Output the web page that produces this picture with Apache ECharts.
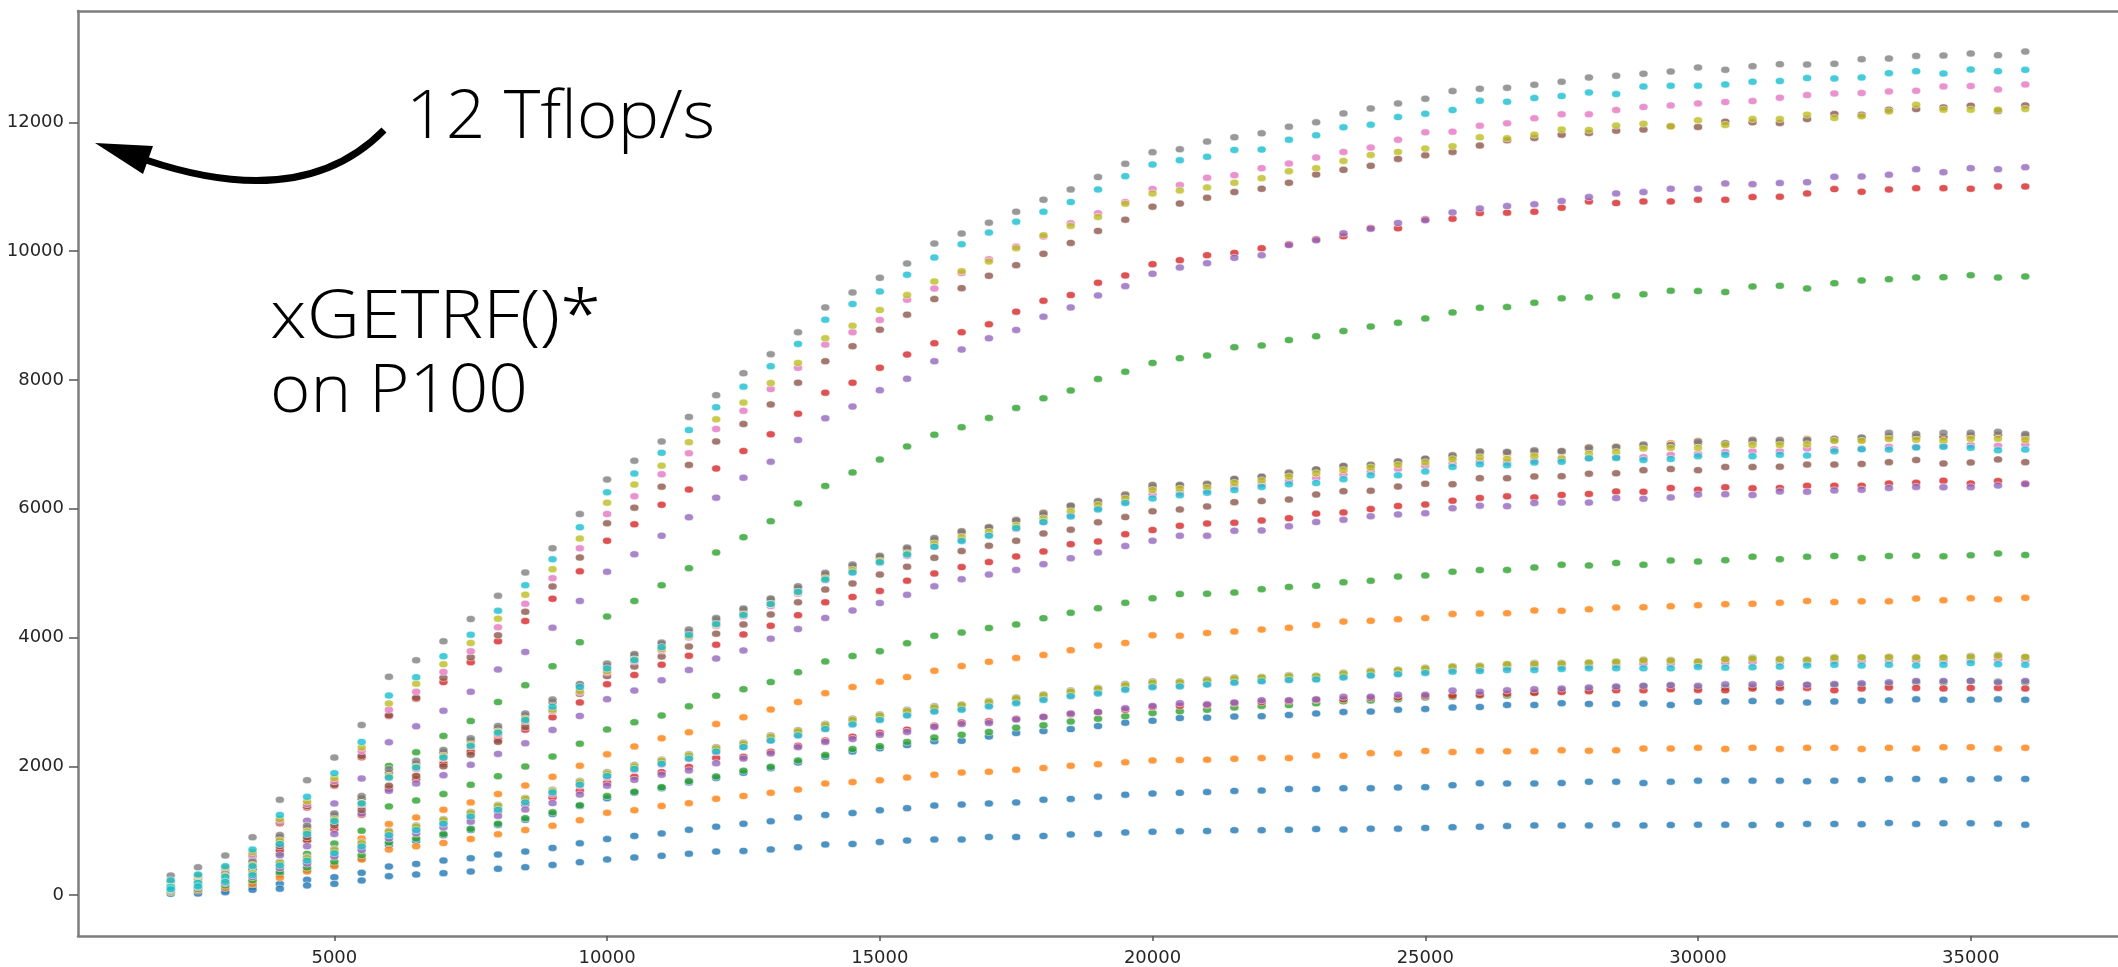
<!DOCTYPE html>
<html>
<head>
<meta charset="utf-8">
<title>xGETRF on P100</title>
<script src="https://cdn.jsdelivr.net/npm/echarts@6/dist/echarts.min.js"></script>
<style>
  html, body { margin: 0; padding: 0; background: #fff; }
  #chart { width: 2118px; height: 967px; }
</style>
</head>
<body>
<div id="chart"></div>
<script>
// Matrix sizes N (x axis) shared by every curve
const sizes = [2000,2500,3000,3500,4000,4500,5000,5500,6000,6500,7000,7500,8000,8500,9000,9500,10000,10500,11000,11500,12000,12500,13000,13500,14000,14500,15000,15500,16000,16500,17000,17500,18000,18500,19000,19500,20000,20500,21000,21500,22000,22500,23000,23500,24000,24500,25000,25500,26000,26500,27000,27500,28000,28500,29000,29500,30000,30500,31000,31500,32000,32500,33000,33500,34000,34500,35000,35500,36000];

const xTicks = [5000, 10000, 15000, 20000, 25000, 30000, 35000];
const yTicks = [0, 2000, 4000, 6000, 8000, 10000, 12000];

// Gflop/s per size — fastest family (A)
const grayA = [304,433,614,898,1481,1785,2136,2642,3390,3648,3942,4288,4649,5010,5387,
  5918,6454,6747,7046,7427,7765,8106,8400,8741,9128,9360,9587,9809,10119,10274,10444,10614,10800,10960,11151,11357,11538,11584,11703,11770,11832,11935,12002,12141,12218,12296,12368,12487,12523,12538,
  12585,12632,12698,12725,12756,12791,12853,12817,12874,12905,12899,12910,12983,12993,13034,13039,13070,13045,13101];
const cyanA = [230,320,449,707,1244,1527,1894,2379,3101,3385,3710,4045,4417,4814,5217,
  5713,6255,6548,6869,7223,7577,7897,8215,8561,8937,9180,9376,9634,9902,10109,10289,10459,10614,10764,10960,11166,11347,11414,11466,11574,11579,11733,11801,11924,11966,12084,12136,12193,12337,12322,
  12379,12410,12466,12441,12559,12570,12570,12590,12632,12643,12689,12683,12699,12766,12797,12760,12822,12797,12817];
const pinkA = [205,295,415,640,1160,1414,1770,2240,2879,3158,3467,3788,4159,4525,4923,
  5387,5918,6194,6537,6863,7239,7521,7859,8189,8550,8741,8932,9247,9420,9660,9876,10072,10227,10434,10588,10764,10965,11027,11141,11182,11290,11362,11455,11542,11610,11733,11847,11857,11950,11986,
  12064,12126,12126,12193,12240,12265,12296,12317,12332,12384,12425,12451,12457,12482,12492,12559,12565,12513,12590];
const oliveA = [215,305,430,666,1182,1455,1816,2291,2977,3282,3586,3916,4293,4665,5062,
  5537,6095,6377,6670,7035,7389,7649,7953,8266,8648,8844,9087,9319,9531,9691,9840,10047,10248,10392,10532,10738,10898,10945,10991,11063,11135,11243,11290,11403,11496,11543,11594,11630,11769,11754,
  11811,11889,11884,11951,11981,11940,12033,11961,12054,12054,12121,12069,12095,12172,12276,12198,12198,12198,12209];
const brownA = [195,285,405,625,1140,1383,1713,2162,2792,3065,3375,3694,4035,4401,4794,
  5243,5774,6017,6344,6681,7046,7317,7621,7958,8292,8525,8782,9015,9257,9427,9618,9784,9959,10129,10315,10490,10692,10740,10831,10919,10970,11063,11192,11264,11326,11434,11491,11543,11641,11723,
  11760,11811,11837,11873,11889,11940,11930,12012,12002,11992,12054,12131,12121,12198,12209,12234,12260,12178,12265];
const redA = [185,275,395,610,1115,1362,1700,2140,2780,3050,3308,3617,3942,4257,4603,
  5028,5503,5758,6062,6299,6626,6897,7156,7477,7803,7958,8189,8395,8571,8741,8865,9061,9231,9319,9510,9624,9799,9861,9938,9974,10046,10108,10185,10232,10361,10356,10495,10505,10593,10599,
  10614,10676,10774,10748,10774,10774,10800,10800,10841,10846,10898,10965,10924,10959,10980,10980,10970,11006,11006];
const purpleA = [160,240,340,540,900,1156,1424,1811,2374,2621,2864,3158,3504,3777,4154,
  4569,5022,5293,5581,5868,6172,6482,6731,7068,7405,7588,7842,8019,8292,8473,8648,8777,8984,9128,9314,9458,9649,9747,9814,9897,9938,10095,10170,10278,10350,10438,10480,10603,10665,10701,
  10728,10779,10841,10898,10918,10970,10970,11053,11042,11058,11073,11156,11161,11187,11274,11228,11290,11274,11305];
const greenA = [120,180,260,400,650,860,1120,1500,2007,2219,2472,2704,2998,3261,3555,
  3928,4326,4569,4812,5078,5321,5559,5807,6084,6355,6565,6764,6969,7151,7267,7411,7566,7715,7838,8016,8129,8266,8339,8380,8509,8537,8620,8680,8760,8830,8890,8957,9050,9122,9133,
  9200,9268,9283,9309,9330,9386,9381,9365,9453,9463,9422,9504,9546,9566,9592,9597,9628,9592,9608];

// Middle family (B)
const grayB = [150,220,330,520,934,1078,1269,1538,1956,2085,2255,2436,2626,2822,3039,
  3280,3596,3745,3922,4127,4304,4453,4608,4796,5006,5133,5271,5398,5548,5653,5713,5824,5935,6049,6120,6221,6369,6369,6387,6464,6499,6565,6612,6665,6683,6736,6778,6831,6890,6881,
  6908,6897,6952,6962,7000,6990,7044,7017,7071,7071,7071,7087,7109,7179,7163,7179,7179,7195,7163];
const brownB = [140,210,320,500,900,1050,1240,1500,1900,2040,2220,2400,2590,2790,3000,
  3250,3560,3720,3900,4090,4280,4430,4590,4770,4980,5110,5250,5380,5520,5630,5713,5810,5910,6049,6100,6200,6340,6369,6370,6464,6499,6540,6612,6665,6670,6736,6778,6810,6870,6881,
  6890,6890,6930,6950,6980,6985,7020,7005,7050,7040,7060,7070,7090,7130,7120,7120,7140,7150,7140];
const orangeB = [120,180,270,420,800,950,1120,1380,1672,1852,2060,2250,2450,2660,2880,
  3150,3470,3650,3840,4050,4240,4400,4560,4750,4960,5090,5240,5370,5520,5640,5700,5824,5943,6030,6110,6221,6369,6350,6387,6440,6480,6550,6600,6650,6683,6720,6770,6831,6890,6854,
  6865,6881,6957,6962,6973,7017,7055,7017,7044,7044,7087,7087,7071,7109,7125,7109,7125,7152,7109];
const oliveB = [135,200,300,470,850,990,1180,1430,1850,1990,2160,2340,2540,2740,2880,
  3170,3480,3660,3820,4020,4200,4360,4520,4700,4920,5050,5190,5310,5460,5560,5640,5740,5850,5960,6060,6160,6290,6310,6330,6400,6440,6500,6550,6600,6640,6680,6720,6770,6800,6773,
  6816,6784,6854,6881,6935,6946,6946,6990,6990,6990,7000,7055,7055,7082,7071,7055,7087,7087,7071];
const pinkB = [130,195,290,455,846,980,1160,1410,1820,1960,2130,2310,2500,2700,2870,
  3150,3460,3630,3800,4000,4180,4330,4490,4680,4890,5020,5160,5270,5420,5520,5600,5690,5790,5900,6010,6110,6220,6250,6280,6340,6380,6430,6480,6530,6580,6620,6670,6700,6740,6719,
  6746,6762,6784,6800,6800,6838,6854,6881,6892,6892,6935,6925,6935,6962,6962,6979,6990,6979,7000];
const cyanB = [125,190,285,450,795,950,1150,1424,1827,1981,2136,2317,2523,2719,2926,
  3231,3520,3650,3850,4040,4210,4350,4520,4710,4900,5010,5170,5290,5410,5500,5580,5700,5794,5880,5990,6090,6160,6210,6250,6290,6340,6380,6400,6460,6520,6520,6580,6650,6690,6675,
  6719,6730,6784,6789,6757,6773,6816,6838,6816,6838,6827,6892,6925,6919,6952,6962,6946,6908,6919];
const brownB2 = [115,170,255,400,760,900,1080,1320,1700,1850,2000,2180,2380,2610,2859,
  3126,3402,3552,3706,3861,4060,4204,4359,4547,4746,4840,4978,5100,5238,5343,5426,5503,5617,5676,5789,5871,5960,5990,6037,6103,6120,6144,6221,6274,6280,6345,6387,6381,6476,6475,
  6502,6507,6545,6551,6600,6616,6600,6648,6648,6654,6686,6686,6697,6724,6757,6703,6719,6767,6724];
const redB = [105,160,240,380,700,850,1020,1250,1650,1800,2033,2219,2404,2570,2761,
  2993,3275,3419,3579,3717,3889,4049,4182,4348,4547,4630,4724,4884,4995,5094,5172,5260,5338,5451,5492,5605,5670,5735,5771,5783,5818,5854,5925,5943,5996,6043,6067,6126,6168,6193,
  6177,6215,6231,6269,6264,6323,6296,6334,6318,6323,6356,6356,6356,6394,6404,6437,6394,6431,6394];
const purpleB = [95,145,215,340,620,760,950,1269,1620,1734,1863,2023,2193,2358,2565,
  2783,3043,3176,3336,3496,3673,3800,3983,4132,4304,4420,4536,4663,4796,4906,4978,5050,5140,5232,5321,5421,5504,5581,5581,5658,5664,5729,5794,5830,5883,5913,5931,6008,6049,6041,
  6090,6096,6096,6166,6155,6177,6220,6226,6215,6269,6264,6285,6296,6323,6339,6334,6334,6361,6383];
const greenB = [80,120,180,290,520,640,800,1000,1378,1471,1569,1713,1847,1997,2152,
  2352,2573,2684,2789,2932,3098,3198,3308,3463,3629,3712,3789,3911,4027,4077,4149,4204,4300,4385,4456,4539,4610,4675,4681,4699,4752,4787,4805,4859,4882,4947,4965,5024,5048,5050,
  5088,5131,5120,5158,5131,5196,5180,5202,5256,5218,5256,5267,5234,5267,5272,5261,5277,5305,5283];
const orangeB2 = [70,105,160,250,450,560,700,880,1104,1207,1326,1440,1569,1703,1837,
  2009,2186,2308,2435,2529,2656,2761,2883,2999,3137,3231,3314,3386,3485,3557,3623,3684,3728,3804,3875,3917,4035,4029,4071,4094,4124,4153,4195,4248,4260,4284,4302,4367,4373,4378,
  4421,4416,4438,4465,4470,4487,4503,4519,4524,4541,4568,4551,4562,4562,4606,4579,4611,4595,4617];

// Slowest family (C)
const grayC = [110,160,240,350,511,588,717,820,1000,1080,1180,1290,1400,1510,1636,
  1771,1909,2020,2103,2186,2297,2368,2479,2562,2656,2739,2805,2877,2932,2960,3015,3070,3117,3176,3218,3277,3318,3318,3348,3378,3389,3413,3407,3455,3484,3502,3532,3555,3561,3587,
  3603,3603,3614,3630,3657,3652,3630,3668,3685,3668,3657,3695,3695,3701,3695,3685,3712,3728,3695];
const oliveC = [105,155,232,340,500,575,700,805,985,1065,1165,1275,1385,1495,1620,
  1755,1890,2000,2085,2170,2280,2350,2460,2545,2640,2720,2790,2860,2915,2950,3000,3055,3105,3160,3205,3260,3300,3305,3335,3365,3380,3400,3400,3440,3470,3495,3520,3545,3555,3587,
  3590,3595,3610,3620,3645,3640,3625,3660,3670,3660,3650,3685,3690,3695,3688,3690,3700,3715,3700];
const brownC = [100,150,225,330,490,565,690,795,975,1055,1150,1260,1370,1480,1600,
  1735,1870,1985,2070,2150,2260,2335,2440,2525,2620,2705,2775,2845,2900,2935,2985,3040,3090,3150,3190,3245,3285,3295,3320,3350,3370,3390,3390,3430,3460,3480,3505,3530,3540,3560,
  3575,3580,3595,3605,3630,3625,3615,3645,3655,3650,3640,3670,3675,3680,3675,3670,3690,3700,3680];
const orangeC = [95,145,220,325,480,555,680,785,960,1040,1140,1250,1360,1470,1590,
  1725,1860,1975,2060,2145,2250,2330,2430,2515,2610,2700,2770,2840,2895,2930,2980,3035,3085,3140,3185,3240,3280,3290,3315,3345,3365,3385,3395,3425,3455,3480,3500,3525,3540,3570,
  3585,3590,3600,3615,3640,3640,3630,3655,3665,3660,3655,3680,3685,3690,3690,3685,3700,3705,3690];
const pinkC = [92,140,212,318,470,545,665,770,945,1025,1125,1235,1340,1450,1570,
  1700,1830,1945,2030,2115,2220,2300,2400,2485,2580,2665,2735,2805,2860,2895,2945,3000,3050,3105,3150,3205,3245,3255,3280,3310,3330,3350,3360,3395,3420,3445,3470,3495,3505,3530,
  3540,3545,3560,3570,3590,3590,3585,3605,3615,3615,3610,3635,3640,3645,3645,3640,3655,3665,3650];
const cyanC = [90,135,205,310,460,535,650,755,930,1010,1110,1220,1325,1440,1595,
  1716,1850,1960,2040,2120,2230,2300,2400,2480,2580,2650,2720,2790,2850,2880,2930,2980,3030,3090,3130,3190,3230,3240,3270,3300,3320,3340,3350,3380,3410,3430,3450,3470,3480,3495,
  3495,3511,3522,3522,3522,3522,3544,3533,3538,3549,3565,3576,3565,3576,3565,3576,3603,3587,3576];
const purpleC = [80,120,185,280,420,490,600,700,880,960,1050,1140,1230,1330,1429,
  1561,1700,1790,1870,1937,2048,2120,2200,2297,2379,2424,2490,2534,2612,2656,2672,2728,2767,2821,2844,2903,2939,2981,2963,2992,3028,3028,3040,3081,3081,3111,3111,3176,3158,3181,
  3197,3208,3224,3240,3251,3262,3251,3273,3273,3289,3267,3278,3289,3305,3327,3327,3327,3305,3327];
const redC = [85,128,195,295,440,510,625,730,930,1010,1110,1200,1300,1410,1517,
  1622,1744,1838,1910,1990,2131,2147,2225,2320,2400,2460,2520,2570,2630,2680,2700,2740,2770,2810,2840,2880,2920,2940,2950,2980,3000,3010,3030,3040,3060,3070,3090,3100,3110,3127,
  3143,3154,3165,3181,3181,3197,3186,3181,3208,3218,3218,3181,3208,3224,3218,3208,3218,3218,3208];
const greenC = [60,95,150,230,360,430,520,620,820,880,950,1030,1110,1195,1285,
  1395,1539,1605,1677,1771,1843,1932,1992,2092,2175,2269,2313,2379,2446,2490,2534,2601,2637,2696,2738,2779,2827,2856,2880,2915,2939,2951,2980,3010,3022,3040,3070,3080,3099,3099,
  3143,3181,3197,3224,3240,3251,3224,3224,3235,3251,3262,3262,3267,3278,3305,3305,3327,3316,3305];
const blueC = [50,80,130,200,320,390,470,570,780,840,930,1010,1090,1170,1259,
  1384,1506,1590,1660,1750,1820,1900,1970,2060,2150,2230,2280,2330,2390,2396,2462,2518,2548,2578,2625,2678,2708,2750,2756,2773,2779,2797,2821,2844,2850,2880,2892,2915,2921,2953,
  2953,2980,2969,2969,2975,2953,3002,3007,3013,3007,2991,3007,3018,3024,3040,3034,3034,3040,3034];
const orangeC2 = [45,70,110,170,270,366,449,552,707,758,810,872,944,1011,1078,
  1163,1279,1318,1384,1428,1495,1539,1589,1639,1733,1755,1782,1827,1871,1904,1915,1948,1974,2009,2033,2062,2092,2098,2104,2116,2128,2128,2169,2163,2205,2199,2240,2222,2240,2233,
  2233,2249,2243,2249,2276,2276,2287,2271,2287,2271,2287,2287,2271,2287,2276,2298,2298,2276,2287];
const blueC2 = [35,55,80,130,175,237,279,346,444,485,537,573,630,676,733,
  804,870,920,958,1014,1063,1108,1146,1207,1246,1274,1318,1351,1390,1406,1423,1439,1482,1494,1529,1559,1577,1588,1600,1618,1624,1648,1648,1660,1660,1672,1677,1707,1737,1734,
  1734,1740,1761,1761,1740,1761,1778,1778,1778,1778,1767,1778,1789,1805,1805,1783,1799,1810,1805];
const blueC3 = [20,25,46,83,100,150,175,227,294,320,341,366,408,433,469,
  511,555,583,610,643,676,687,710,743,787,793,826,848,864,864,903,903,919,943,949,973,984,990,996,1008,1008,1014,1026,1020,1032,1032,1044,1055,1061,1073,
  1083,1083,1083,1094,1083,1089,1094,1094,1089,1094,1105,1105,1100,1121,1105,1116,1116,1110,1094];

// One scatter series per colour, each holding all curves drawn in that colour
const colourGroups = [
  { color: '#1f77b4', curves: [blueC, blueC2, blueC3] },
  { color: '#ff7f0e', curves: [orangeB, orangeB2, orangeC, orangeC2] },
  { color: '#2ca02c', curves: [greenA, greenB, greenC] },
  { color: '#d62728', curves: [redA, redB, redC] },
  { color: '#9467bd', curves: [purpleA, purpleB, purpleC] },
  { color: '#8c564b', curves: [brownA, brownB, brownB2, brownC] },
  { color: '#e377c2', curves: [pinkA, pinkB, pinkC] },
  { color: '#7f7f7f', curves: [grayA, grayB, grayC] },
  { color: '#bcbd22', curves: [oliveA, oliveB, oliveC] },
  { color: '#17becf', curves: [cyanA, cyanB, cyanC] }
];

const series = colourGroups.map(g => ({
  type: 'scatter',
  symbol: 'circle',
  symbolSize: [9, 7],
  itemStyle: { color: g.color, opacity: 0.8, borderColor: '#ffffff', borderWidth: 0.6 },
  silent: true,
  data: g.curves.flatMap(c => sizes.map((n, i) => [n, c[i]]))
}));

const X_MIN = 300, X_MAX = 37700, Y_MIN = -635, Y_MAX = 13731;
const spine = { show: true, onZero: false, lineStyle: { color: '#7d7d7d', width: 2.5 } };
const labelFont = { fontFamily: 'DejaVu Sans', fontSize: 18, color: '#262626' };
const noteFont = '300 67px "Open Sans Light", "Open Sans", "Noto Sans", sans-serif';
// a thin white outline drawn over the glyphs keeps the annotation strokes light
const noteStyle = { font: noteFont, fill: '#000', stroke: '#ffffff', lineWidth: 1.4, verticalAlign: 'middle' };

const chart = echarts.init(document.getElementById('chart'), null, { renderer: 'canvas' });
chart.setOption({
  animation: false,
  backgroundColor: '#ffffff',
  grid: { left: 78, top: 11, width: 2057, height: 928, containLabel: false },
  xAxis: [
    {
      type: 'value', position: 'bottom', min: X_MIN, max: X_MAX,
      axisLine: spine,
      splitLine: { show: false },
      axisTick: { show: true, customValues: xTicks, length: 5, lineStyle: { color: '#555', width: 1.5 } },
      axisLabel: Object.assign({ customValues: xTicks, margin: 13, formatter: v => String(v) }, labelFont)
    },
    {
      type: 'value', position: 'top', min: X_MIN, max: X_MAX,
      axisLine: spine, axisTick: { show: false }, axisLabel: { show: false }, splitLine: { show: false }
    }
  ],
  yAxis: {
    type: 'value', min: Y_MIN, max: Y_MAX,
    axisLine: spine,
    splitLine: { show: false },
    axisTick: { show: true, customValues: yTicks, length: 9, lineStyle: { color: '#555', width: 1.5 } },
    axisLabel: Object.assign({ customValues: yTicks, margin: 14, formatter: v => String(v) }, labelFont)
  },
  series: series,
  graphic: [
    {
      type: 'bezierCurve', silent: true, z: 100,
      shape: { x1: 384, y1: 130, cpx1: 330, cpy1: 185, cpx2: 250, cpy2: 195, x2: 146, y2: 160 },
      style: { stroke: '#000', lineWidth: 7, fill: null, lineCap: 'butt' }
    },
    {
      type: 'polygon', silent: true, z: 100,
      shape: { points: [[95, 143], [153, 146], [143, 174]] },
      style: { fill: '#000' }
    },
    {
      type: 'text', silent: true, z: 100, x: 406, y: 121, scaleX: 1.04,
      style: Object.assign({ text: '12 Tflop/s' }, noteStyle)
    },
    {
      type: 'text', silent: true, z: 100, x: 270, y: 321, scaleX: 1.1,
      style: Object.assign({ text: 'xGETRF()*' }, noteStyle)
    },
    {
      type: 'text', silent: true, z: 100, x: 270, y: 395, scaleX: 1.03,
      style: Object.assign({ text: 'on P100' }, noteStyle)
    }
  ]
});
</script>
</body>
</html>
